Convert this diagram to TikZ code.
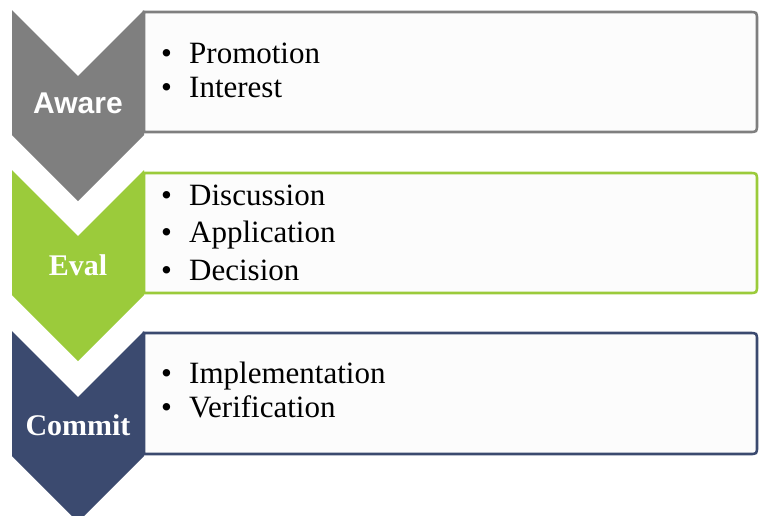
\documentclass[tikz,border=0pt]{standalone}
\usepackage{fontspec}
\setmainfont{Liberation Serif}
\newfontfamily\arialfont{Liberation Sans}
\definecolor{cgray}{HTML}{7F7F7F}
\definecolor{cgreen}{HTML}{9BCB3B}
\definecolor{cnavy}{HTML}{3B4A6F}
\definecolor{boxfill}{HTML}{FCFCFC}
\tikzset{
  itemtxt/.style={anchor=base west, inner sep=0pt, font=\fontsize{31}{36}\selectfont},
  lbltxt/.style={anchor=base, inner sep=0pt, text=white, font=\fontsize{30}{36}\selectfont\bfseries},
  boxline/.style={line width=2.6pt, fill=boxfill},
}
\newcommand{\itm}[1]{\makebox[28pt][l]{\textbullet}#1}
\begin{document}
\begin{tikzpicture}[x=1pt,y=-1pt]
\useasboundingbox (0,0) rectangle (759,515);
\begin{scope}
\clip (0,0) rectangle (759,515);
% boxes
\foreach \top/\bot/\col in {12/132/cgray, 173/293/cgreen, 333/454/cnavy}{
  \draw[boxline, draw=\col] (144,\top) -- (749,\top) .. controls (757,\top) .. (757,\top+8)
     -- (757,\bot-8) .. controls (757,\bot) .. (749,\bot) -- (144,\bot) -- cycle;
}
% chevrons
\foreach \T/\col in {10/cgray, 170/cgreen, 331/cnavy}{
  \fill[\col] (12,\T) -- (78,\T+66) -- (144,\T) -- (144,\T+125) -- (78,\T+191) -- (12,\T+125) -- cycle;
}
\end{scope}
% labels
\node[lbltxt, font=\fontsize{30}{36}\selectfont\bfseries\arialfont] (aware) at (78,113) {Aware};
\node[lbltxt] (eval) at (78,275) {Eval};
\node[lbltxt] (commit) at (78,435) {Commit};
% items
\node[itemtxt] (i1) at (161,63) {\itm{Promotion}};
\node[itemtxt] (i2) at (161,97) {\itm{Interest}};
\node[itemtxt] (i3) at (161,205) {\itm{Discussion}};
\node[itemtxt] (i4) at (161,242) {\itm{Application}};
\node[itemtxt] (i5) at (161,280) {\itm{Decision}};
\node[itemtxt] (i6) at (161,383) {\itm{Implementation}};
\node[itemtxt] (i7) at (161,417) {\itm{Verification}};
\end{tikzpicture}
\end{document}
